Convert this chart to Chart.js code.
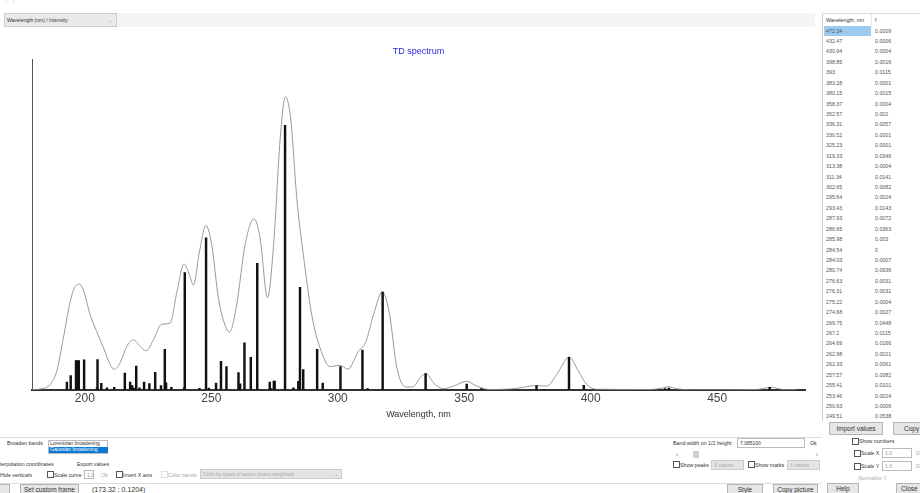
<!DOCTYPE html>
<html>
<head>
<meta charset="utf-8">
<script src="https://cdn.jsdelivr.net/npm/chart.js@4.4.0/dist/chart.umd.min.js"></script>
<style>
  body { margin: 0; width: 920px; height: 493px; overflow: hidden; background: #fff;
         font-family: "Liberation Sans", Arial, sans-serif; position: relative; }
  .t { position: absolute; font-size: 5.3px; color: #333; white-space: nowrap; line-height: 1; }
  .g { color: #aaa; }
  .btn { position: absolute; border: 1px solid #b5b5b5; background: #e6e6e6; font-size: 6.5px;
         color: #333; text-align: center; box-sizing: border-box; line-height: 9px; }
  .cb { position: absolute; width: 5px; height: 5px; border: 1px solid #555; background: #fff; }
  .inp { position: absolute; border: 1px solid #bbb; background: #fff; font-size: 5px; color: #999;
         box-sizing: border-box; padding-left: 2px; line-height: 8px; }
  .sel { position: absolute; border: 1px solid #ccc; background: #e4e4e4; font-size: 5px; color: #aaa;
         box-sizing: border-box; padding-left: 2px; line-height: 8px; white-space: nowrap; }
  #chartBox { position: absolute; left: 0; top: 20px; width: 815px; height: 410px; }
  #table { position: absolute; left: 822px; top: 13px; width: 98px; height: 407px; border-left: 1px solid #ccc;
           border-top: 1px solid #ddd; background: #fff; overflow: hidden; }
</style>
</head>
<body>

<div class="t" style="left:6px;top:1px;color:#777;">'&nbsp;&nbsp;&nbsp;&nbsp;'</div>
<div style="position:absolute;left:117px;top:13px;width:698px;height:14px;background:#f4f4f4;"></div>
<div class="sel" style="left:4px;top:13px;width:113px;height:14px;line-height:12px;color:#333;background:#e9e9e9;">Wavelength (nm) / Intensity<span style="position:absolute;right:4px;color:#888;">&#8964;</span></div>

<div id="chartBox"><canvas id="chart"></canvas></div>

<div id="table"></div>

<!-- right panel bottom -->
<div class="btn" style="left:829px;top:422px;width:54px;height:13px;line-height:11px;">Import values</div>
<div class="btn" style="left:893px;top:422px;width:40px;height:13px;line-height:11px;text-align:left;padding-left:10px;">Copy</div>
<div class="cb" style="left:852px;top:438px;"></div><div class="t" style="left:859px;top:439px;">Show numbers</div>
<div class="cb" style="left:854px;top:450px;"></div><div class="t" style="left:861px;top:451px;">Scale X</div>
<div class="inp" style="left:882px;top:448px;width:30px;height:10px;">1.0</div><div class="t g" style="left:916px;top:451px;">D</div>
<div class="cb" style="left:854px;top:463px;"></div><div class="t" style="left:861px;top:464px;">Scale Y</div>
<div class="inp" style="left:882px;top:461px;width:30px;height:10px;">1.0</div><div class="t g" style="left:916px;top:464px;">D</div>
<div class="t g" style="left:858px;top:476px;">Normalize Y</div>
<div class="btn" style="left:827px;top:483px;width:32px;height:11px;">Help</div>
<div class="btn" style="left:896px;top:483px;width:34px;height:11px;text-align:left;padding-left:4px;">Close</div>

<!-- bottom panel -->
<div style="position:absolute;left:0;top:437px;width:822px;height:1px;background:#ddd;"></div>
<div style="position:absolute;left:0;top:483px;width:822px;height:1px;background:#ddd;"></div>
<div class="t" style="left:7px;top:441px;">Broaden bands</div>
<div style="position:absolute;left:48px;top:440px;width:60px;height:14px;border:1px solid #bbb;background:#fff;box-sizing:border-box;"></div>
<div class="t" style="left:50px;top:441px;font-size:5px;">Lorentzian broadening</div>
<div class="t" style="left:49px;top:447px;width:58px;height:6px;background:#0a78d7;color:#fff;font-size:5px;padding-left:1px;">Gaussian broadening</div>
<div class="t" style="left:0px;top:462px;">terpolation coordinates</div>
<div class="t" style="left:77px;top:462px;">Export values</div>
<div class="t" style="left:0px;top:473px;">Hide verticals</div>
<div class="cb" style="left:47px;top:471px;"></div><div class="t" style="left:54px;top:473px;">Scale curve</div>
<div class="inp" style="left:84px;top:470px;width:10px;height:9px;">1.0</div>
<div class="t g" style="left:101px;top:473px;">Ok</div>
<div class="cb" style="left:116px;top:471px;"></div><div class="t" style="left:123px;top:473px;">Invert X axis</div>
<div class="cb" style="left:161px;top:471px;border-color:#ddd;"></div><div class="t g" style="left:168px;top:473px;">Color bands</div>
<div class="sel" style="left:200px;top:469px;width:142px;height:10px;">Color by types of atoms (mass-weighted)<span style="position:absolute;right:3px;">&#8964;</span></div>

<div class="t" style="left:673px;top:441px;">Band width on 1/2 height:</div>
<div class="inp" style="left:737px;top:438px;width:68px;height:10px;color:#333;">7.085100</div>
<div class="t" style="left:810px;top:441px;">Ok</div>
<div class="t" style="left:676px;top:451px;color:#666;font-size:6px;">&lsaquo;</div>
<div style="position:absolute;left:693px;top:451px;width:6px;height:7px;background:#d0d0d0;"></div>
<div class="t" style="left:816px;top:451px;color:#666;font-size:6px;">&rsaquo;</div>
<div class="cb" style="left:673px;top:461px;"></div><div class="t" style="left:680px;top:463px;">Show peaks</div>
<div class="sel" style="left:711px;top:460px;width:33px;height:10px;">X values</div>
<div class="cb" style="left:748px;top:461px;"></div><div class="t" style="left:755px;top:463px;">Show marks</div>
<div class="sel" style="left:787px;top:460px;width:33px;height:10px;">X values</div>

<div class="btn" style="left:-4px;top:484px;width:14px;height:11px;"></div>
<div class="btn" style="left:20px;top:484px;width:59px;height:11px;">Set custom frame</div>
<div class="t" style="left:92px;top:486px;font-size:7px;">(173.32 ; 0.1204)</div>
<div class="btn" style="left:727px;top:484px;width:36px;height:11px;">Style</div>
<div class="btn" style="left:773px;top:484px;width:45px;height:11px;">Copy picture</div>

<script>
// stick spectrum: wavelength (nm) and oscillator strength f
const stickNm = [194.5, 196.0, 198.1, 198.7, 199.2, 201.3, 206.4, 206.6, 208.1, 210.3,
    213.2, 217.4, 219.5, 220.3, 221.1, 221.9, 223.2, 225.0, 227.1, 229.4,
    231.7, 233.2, 233.7, 235.8, 240.8, 241.1, 246.9, 249.51, 250.63, 253.46,
    255.41, 257.57, 262.33, 262.98, 264.69, 267.2, 269.75, 274.68, 275.22, 276.31,
    276.63, 280.74, 284.03, 284.54, 285.98, 286.65, 287.93, 293.43, 295.64, 302.65,
    311.34, 313.38, 319.33, 325.23, 330.52, 336.31, 352.57, 358.37, 380.15, 383.28,
    393, 398.85, 430.94, 432.47, 472.34]
const stickF = [0.0027, 0.005, 0.0103, 0.0103, 0.0103, 0.0106, 0.0007, 0.0107, 0.0023, 0.0007,
    0.0009, 0.0059, 0.0027, 0.0015, 0.0006, 0.0084, 0.0007, 0.0027, 0.0022, 0.0062,
    0.0015, 0.0143, 0.0025, 0.0009, 0.0007, 0.0415, 0.0005, 0.0538, 0.0006, 0.0024,
    0.0101, 0.0082, 0.0061, 0.0021, 0.0166, 0.0115, 0.0448, 0.0027, 0.0004, 0.0031,
    0.0031, 0.0936, 0.0007, 0, 0.003, 0.0363, 0.0072, 0.0143, 0.0024, 0.0082,
    0.0141, 0.0004, 0.0346, 0.0001, 0.0001, 0.0057, 0.002, 0.0004, 0.0015, 0.0001,
    0.0115, 0.0016, 0.0004, 0.0006, 0.0009]

// broadened curve
const curveNm = [180, 185.2, 187.9, 190.5, 193.1, 195.8, 197.7, 199.5, 201.0, 203.7,
    206.3, 209.0, 211.6, 213.2, 215.5, 218.2, 220.8, 223.4, 225.8, 228.7,
    232.0, 235.3, 238.0, 240.8, 243.0, 244.5, 246.9, 249.4, 251.8, 254.4,
    257.0, 258.8, 261.6, 264.9, 268.5, 270.9, 273.8, 276.2, 278.8, 280.9,
    283.0, 285.4, 288.0, 291.3, 294.6, 298.6, 302.5, 305.6, 309.7, 312.6,
    315.7, 319.2, 322.0, 324.9, 328.5, 331.2, 334.3, 336.5, 339.4, 343.3,
    347.3, 352.5, 356.5, 361.8, 372.3, 377.6, 380.2, 384.2, 388.1, 393.1,
    396.7, 400.0, 403.9, 425.0, 430.3, 432.3, 435.5, 440.8, 467.2, 472.7,
    477.7, 483]
const curveI = [0, 0.0005, 0.0019, 0.0066, 0.0183, 0.0312, 0.0365, 0.0374, 0.0353, 0.0265,
    0.0206, 0.0148, 0.0089, 0.0072, 0.0095, 0.0154, 0.0177, 0.0154, 0.0138, 0.0177,
    0.0232, 0.0236, 0.0347, 0.0445, 0.0406, 0.0371, 0.0488, 0.0582, 0.0511, 0.0324,
    0.0230, 0.0204, 0.0300, 0.0511, 0.0605, 0.0535, 0.0326, 0.0511, 0.0887, 0.1037,
    0.0957, 0.0676, 0.0476, 0.0265, 0.0148, 0.0082, 0.0087, 0.0073, 0.0136, 0.0168,
    0.0265, 0.0347, 0.0270, 0.0080, 0.0010, 0.0010, 0.0045, 0.0058, 0.0025, 0.0004,
    0.0013, 0.0030, 0.0013, 0.0001, 0.0005, 0.0013, 0.0015, 0.0013, 0.0054, 0.0116,
    0.0066, 0.0019, 0.0002, 0.0001, 0.0007, 0.0011, 0.0004, 0, 0.0001, 0.0009,
    0.0001, 0]

const xTicks = [200, 250, 300, 350, 400, 450]
const xMin = 180.7
const xMax = 486.3
const yMax = 0.1168

// table on the right, longest wavelengths first
function fillTable() {
    let tbl = document.getElementById('table')
    let html = '<div class="t" style="left:3px;top:4px;">Wavelength, nm</div>' +
        '<div class="t" style="left:52px;top:4px;">f</div>' +
        '<div style="position:absolute;left:48px;top:0;width:1px;height:12px;background:#e4e4e4;"></div>'
    let idx = stickNm.map((v, i) => i).sort((a, b) => stickNm[b] - stickNm[a])
    for (let r = 0; r < 38; r++) {
        let i = idx[r]
        let top = 12 + r * 10.43
        if (r == 0)
            html += '<div style="position:absolute;left:1px;top:' + top + 'px;width:47px;height:10px;background:#9ccbf2;"></div>'
        html += '<div class="t" style="left:3px;top:' + (top + 2.5) + 'px;color:#555;">' + stickNm[i] + '</div>'
        html += '<div class="t" style="left:52px;top:' + (top + 2.5) + 'px;color:#555;">' + stickF[i] + '</div>'
    }
    tbl.innerHTML = html
}
fillTable()

let sticks = stickNm.map((x, i) => ({x: x, y: stickF[i]}))
let curve = curveNm.map((x, i) => ({x: x, y: curveI[i]}))

new Chart(document.getElementById('chart'), {
    type: 'bar',
    data: {
        datasets: [{
            type: 'line',
            data: curve,
            borderColor: '#9a9a9a',
            borderWidth: 1,
            pointRadius: 0,
            fill: false,
            cubicInterpolationMode: 'monotone',
            order: 2
        }, {
            type: 'bar',
            data: sticks,
            backgroundColor: '#111',
            barThickness: 1.8,
            order: 1
        }]
    },
    options: {
        responsive: true,
        maintainAspectRatio: false,
        animation: false,
        layout: { padding: { left: 32, right: 10, top: 0, bottom: 10 } },
        plugins: {
            legend: { display: false },
            tooltip: { enabled: false },
            title: {
                display: true,
                text: 'TD spectrum',
                color: '#2a2ae0',
                font: { size: 9, family: 'Liberation Sans', weight: 'normal' },
                padding: { top: 26, bottom: 3 }
            }
        },
        scales: {
            x: {
                type: 'linear',
                min: xMin,
                max: xMax,
                offset: false,
                grid: { display: false, drawTicks: false },
                border: { display: true, color: '#333', width: 2 },
                afterBuildTicks: (axis) => { axis.ticks = xTicks.map(v => ({value: v})) },
                ticks: {
                    color: '#444',
                    font: { size: 12, family: 'Liberation Sans' },
                    padding: 2,
                    labelOffset: 4,
                    maxRotation: 0
                },
                title: {
                    display: true,
                    text: 'Wavelength, nm',
                    color: '#333',
                    font: { size: 9, family: 'Liberation Sans' },
                    padding: { top: 1, bottom: 0 }
                }
            },
            y: {
                min: 0,
                max: yMax,
                grid: { display: false, drawTicks: false },
                border: { display: true, color: '#555', width: 1 },
                ticks: { display: false }
            }
        }
    }
})
</script>
</body>
</html>
